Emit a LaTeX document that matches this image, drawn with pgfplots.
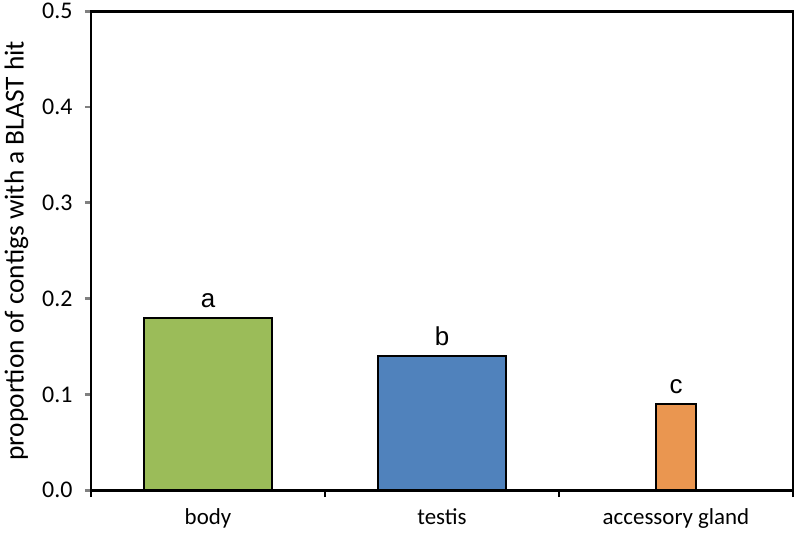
\documentclass[border=0pt]{standalone}
\usepackage{pgfplots}
\pgfplotsset{compat=1.18}
\usepackage{fontspec}
\setmainfont{Carlito}
\newfontfamily\arialf{Liberation Sans}
\definecolor{cgreen}{RGB}{155,188,89}
\definecolor{cblue}{RGB}{80,130,188}
\definecolor{corange}{RGB}{234,150,80}
\begin{document}
\begin{tikzpicture}
\begin{axis}[
  scale only axis,
  width=702bp, height=479bp,
  xmin=-0.5, xmax=2.5,
  ymin=0, ymax=0.5,
  axis line style={line width=2.8bp, draw=black},
  xtick={0,1,2},
  xticklabels={body,testis,accessory gland},
  minor xtick={-0.5,0.5,1.5,2.5},
  ytick={0,0.1,0.2,0.3,0.4,0.5},
  yticklabel style={/pgf/number format/fixed,/pgf/number format/fixed zerofill,/pgf/number format/precision=1},
  /pgf/number format/assume math mode=true,
  tick pos=left,
  tick align=outside,
  x tick style={draw=none},
  minor x tick style={draw=black, line width=2.8bp},
  minor tick length=7bp,
  y tick style={line width=2.8bp},
  major tick length=6bp,
  yticklabel style={font=\fontsize{24}{24}\selectfont, xshift=-9bp},
  xticklabel style={font=\fontsize{23}{23}\selectfont, yshift=-9bp},
  ylabel={proportion of contigs with a BLAST hit},
  ylabel style={font=\fontsize{27.5}{27.5}\selectfont, yshift=7bp},
  nodes near coords style={font=\arialf\fontsize{26}{26}\selectfont, anchor=south, yshift=6bp},
  clip=false,
]
\addplot[ybar, bar width=0.55, fill=cgreen, draw=black, line width=2bp,
  nodes near coords={a}] coordinates {(0,0.18)};
\addplot[ybar, bar width=0.55, fill=cblue, draw=black, line width=2bp,
  nodes near coords={b}] coordinates {(1,0.14)};
\addplot[ybar, bar width=0.175, fill=corange, draw=black, line width=2bp,
  nodes near coords={c}] coordinates {(2,0.09)};
\draw[line width=2.8bp, line cap=rect] (rel axis cs:0,1) -- (rel axis cs:1,1) -- (rel axis cs:1,0);
\end{axis}
\path ([xshift=-91bp,yshift=-43bp]current axis.south west) rectangle ([xshift=4bp,yshift=10bp]current axis.north east);
\end{tikzpicture}
\end{document}
